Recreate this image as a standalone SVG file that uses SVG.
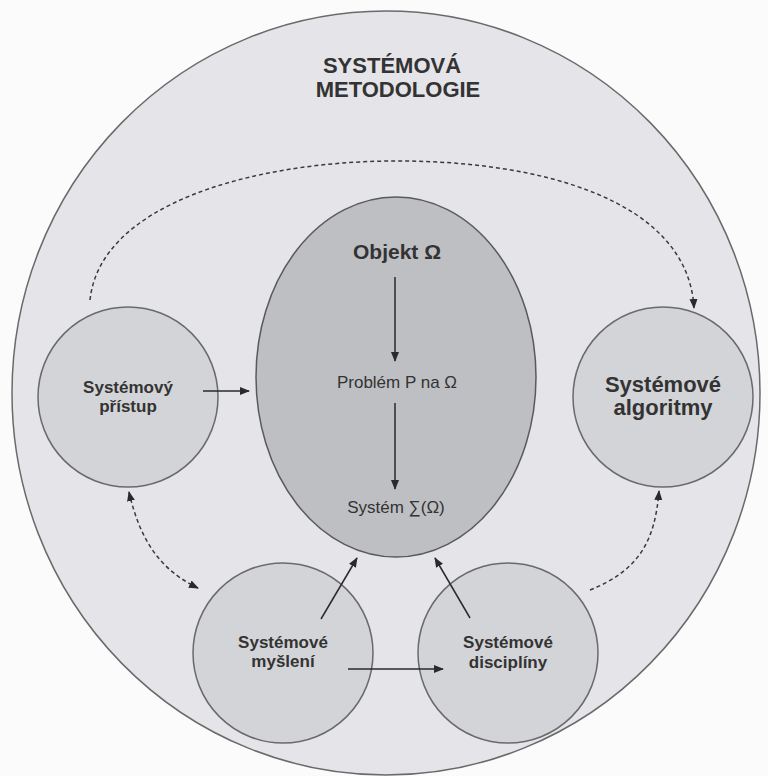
<svg xmlns="http://www.w3.org/2000/svg" width="768" height="776" viewBox="0 0 768 776">
<style>
text{font-family:"Liberation Sans",Arial,sans-serif;fill:#333;text-anchor:middle}
.b{font-weight:bold}
.node{fill:#d3d4d8;stroke:#6a6a6a;stroke-width:1.5}
.solid{fill:none;stroke:#2a2a2a;stroke-width:1.5}
.dash{fill:none;stroke:#3a3a3a;stroke-width:1.5;stroke-dasharray:4 3}
</style>
<defs>
<marker id="ah" viewBox="0 0 10 10" refX="9" refY="5" markerWidth="10" markerHeight="10" markerUnits="userSpaceOnUse" orient="auto-start-reverse">
<path d="M0,1 L10,5 L0,9 z" fill="#2a2a2a"/>
</marker>
</defs>
<rect width="768" height="776" fill="#fbfbfc"/>
<g id="outer">
<ellipse cx="386" cy="393" rx="374" ry="382" fill="#e5e5e9" stroke="#6a6a6a" stroke-width="1.5"/>
<text class="b" x="392" y="73" font-size="22">SYSTÉMOVÁ</text>
<text class="b" x="398" y="97" font-size="22">METODOLOGIE</text>
</g>
<g id="objekt">
<ellipse cx="396" cy="377" rx="140" ry="180" fill="#bebfc3" stroke="#5a5a5a" stroke-width="1.5"/>
<text class="b" x="397" y="259" font-size="21">Objekt Ω</text>
<text x="397" y="388" font-size="17">Problém P na Ω</text>
<text x="396" y="513" font-size="17">Systém ∑(Ω)</text>
</g>
<g id="pristup">
<circle class="node" cx="128" cy="397" r="90"/>
<text class="b" x="128" y="393" font-size="17">Systémový</text>
<text class="b" x="128" y="412" font-size="17">přístup</text>
</g>
<g id="algoritmy">
<circle class="node" cx="663" cy="397" r="90"/>
<text class="b" x="663" y="392" font-size="22">Systémové</text>
<text class="b" x="663" y="415" font-size="22">algoritmy</text>
</g>
<g id="mysleni">
<circle class="node" cx="283" cy="653" r="90"/>
<text class="b" x="283" y="648" font-size="17">Systémové</text>
<text class="b" x="283" y="667" font-size="17">myšlení</text>
</g>
<g id="discipliny">
<circle class="node" cx="508" cy="653" r="90"/>
<text class="b" x="508" y="648" font-size="17">Systémové</text>
<text class="b" x="508" y="668" font-size="17">disciplíny</text>
</g>
<g id="connectors">
<line class="solid" x1="395" y1="277" x2="395" y2="361" marker-end="url(#ah)"/>
<line class="solid" x1="395" y1="403" x2="395" y2="489" marker-end="url(#ah)"/>
<line class="solid" x1="203" y1="391" x2="249" y2="391" stroke-width="2" marker-end="url(#ah)"/>
<line class="solid" x1="321" y1="619" x2="357" y2="558" marker-end="url(#ah)"/>
<line class="solid" x1="470" y1="618" x2="435" y2="558" marker-end="url(#ah)"/>
<line class="solid" x1="348" y1="669" x2="443" y2="669" marker-end="url(#ah)"/>
<path class="dash" d="M90,300 C100,205 250,162 392,161 C540,160 688,200 694,308" marker-end="url(#ah)"/>
<path class="dash" d="M129,492 C140,540 160,570 198,588" marker-start="url(#ah)" marker-end="url(#ah)"/>
<path class="dash" d="M590,590 C640,570 655,540 659,491" marker-end="url(#ah)"/>
</g>
</svg>
